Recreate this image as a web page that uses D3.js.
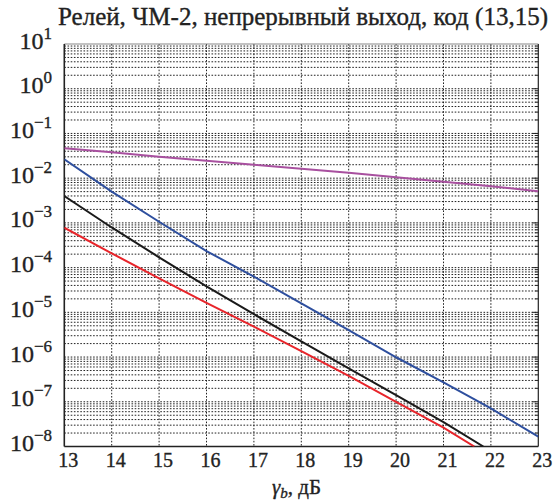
<!DOCTYPE html>
<html><head><meta charset="utf-8">
<script src="https://cdn.jsdelivr.net/npm/d3@7"></script>
<style>body{margin:0;background:#fff}svg{display:block}</style>
</head><body>
<svg id="c" width="555" height="503"></svg>
<script>
// ---- data ----
const titleText = "Релей, ЧМ-2, непрерывный выход, код (13,15)";
const xTicks = [13, 14, 15, 16, 17, 18, 19, 20, 21, 22, 23];
const yTickExps = [1, 0, -1, -2, -3, -4, -5, -6, -7, -8];
const snr = [13, 14, 15, 16, 17, 18, 19, 20, 21, 22, 23];
const purpleBer = [0.0468, 0.0380, 0.0302, 0.0245, 0.0200, 0.0162, 0.0132, 0.0105, 0.0083, 0.0066, 0.0051];
const blueBer = [0.0264, 0.0050, 1.06e-3, 2.34e-4, 6.3e-5, 1.58e-5, 4.0e-6, 9.9e-7, 2.7e-7, 7.1e-8, 1.66e-8];
const blackSnr = [13, 14, 15, 16, 17, 18, 19, 20, 21, 21.84];
const blackBer = [3.98e-3, 7.9e-4, 1.7e-4, 3.8e-5, 9.1e-6, 2.24e-6, 5.6e-7, 1.41e-7, 3.5e-8, 1e-8];
const redSnr = [13, 14, 15, 16, 17, 18, 19, 20, 21, 21.65];
const redBer = [7.8e-4, 2.09e-4, 5.75e-5, 1.62e-5, 4.8e-6, 1.35e-6, 3.8e-7, 1.0e-7, 2.63e-8, 1e-8];

const series = [
  {x: snr, y: purpleBer, color: "#a8509f"},
  {x: snr, y: blueBer, color: "#2e4f9e"},
  {x: blackSnr, y: blackBer, color: "#1a1a1a"},
  {x: redSnr, y: redBer, color: "#e8252b"}
];

// ---- layout ----
const L = 64.3, R = 538.3, T = 44, B = 446.5;
const FONT = "'Liberation Serif',serif";
const svg = d3.select("#c");
const x = d3.scaleLinear().domain([13, 23]).range([L, R]);
const y = d3.scaleLog().domain([1e-8, 10]).range([B, T]);

function styleText(t) {
  return t.attr("font-family", FONT).attr("fill", "#222").attr("stroke", "#222").attr("stroke-width", 0.35);
}

// grid
const g = svg.append("g");
xTicks.slice(1, -1).forEach(v => {
  g.append("line").attr("x1", x(v)).attr("x2", x(v)).attr("y1", T).attr("y2", B)
    .attr("stroke", "#222").attr("stroke-width", 1).attr("stroke-dasharray", "1.6,1.6");
});
const yGrid = [];
for (let k = -8; k <= 0; k++) {
  for (let m = 1; m <= 9; m++) {
    const v = m * Math.pow(10, k);
    if (v > 1e-8 * 1.0001 && v < 10 * 0.9999) yGrid.push(v);
  }
}
yGrid.forEach(v => {
  g.append("line").attr("x1", L).attr("x2", R).attr("y1", y(v)).attr("y2", y(v))
    .attr("stroke", "#222").attr("stroke-width", 1).attr("stroke-dasharray", "1.6,1.6");
  const major = Math.abs(Math.log10(v) - Math.round(Math.log10(v))) < 1e-6;
  g.append("line").attr("x1", R).attr("x2", R - (major ? 6 : 3)).attr("y1", y(v)).attr("y2", y(v))
    .attr("stroke", "#222").attr("stroke-width", 1);
});

// frame
svg.append("line").attr("x1", L).attr("x2", R).attr("y1", T).attr("y2", T).attr("stroke", "#888").attr("stroke-width", 1.2);
svg.append("line").attr("x1", R).attr("x2", R).attr("y1", T).attr("y2", B).attr("stroke", "#222").attr("stroke-width", 1.2);
svg.append("line").attr("x1", L).attr("x2", R).attr("y1", B).attr("y2", B).attr("stroke", "#222").attr("stroke-width", 1.6);
svg.append("line").attr("x1", L).attr("x2", L).attr("y1", T).attr("y2", B).attr("stroke", "#222").attr("stroke-width", 1.6);

// lines
svg.append("clipPath").attr("id", "clip").append("rect").attr("x", L).attr("y", T).attr("width", R - L).attr("height", B - T);
const line = d3.line().x(d => x(d[0])).y(d => y(d[1]));
series.forEach(s => {
  svg.append("path").datum(s.x.map((xv, i) => [xv, s.y[i]]))
    .attr("d", line).attr("fill", "none").attr("stroke", s.color)
    .attr("stroke-width", 2).attr("clip-path", "url(#clip)");
});

// x tick labels
xTicks.forEach(v => {
  styleText(svg.append("text")).attr("x", x(v) + 4).attr("y", 467).attr("text-anchor", "middle")
    .attr("font-size", 20).text(v);
});

// y tick labels
yTickExps.forEach(e => {
  const t = styleText(svg.append("text")).attr("x", 52).attr("y", y(Math.pow(10, e)) + 4.5)
    .attr("text-anchor", "end").attr("font-size", 24);
  t.append("tspan").text("10");
  t.append("tspan").attr("dy", -10).attr("font-size", 17).text(e < 0 ? "\u2212" + (-e) : String(e));
});

// title
const title = styleText(svg.append("text")).attr("x", 58).attr("y", 25)
  .attr("font-size", 19).text(titleText);
const tw = title.node().getComputedTextLength();
title.attr("font-size", 19 * 490 / tw);

// x axis label
const xl = styleText(svg.append("text")).attr("x", 272).attr("y", 494).attr("font-size", 21);
xl.append("tspan").attr("font-style", "italic").text("γ");
xl.append("tspan").attr("font-style", "italic").attr("font-size", 15).attr("dy", 4).text("b");
xl.append("tspan").attr("dy", -4).text(", дБ");
</script>
</body></html>
